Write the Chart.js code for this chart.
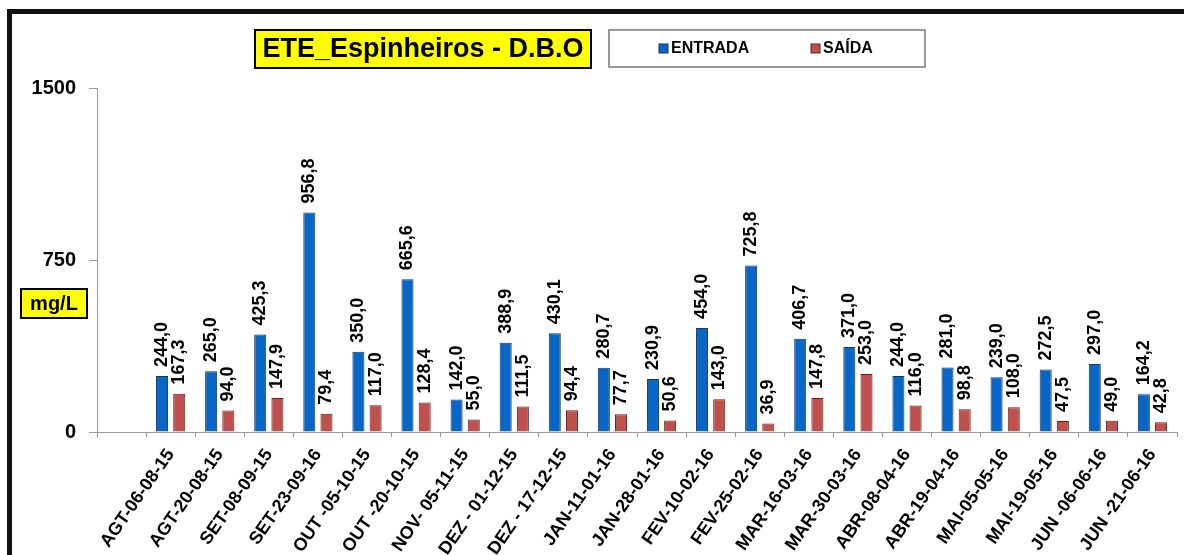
<!DOCTYPE html>
<html>
<head>
<meta charset="utf-8">
<script src="https://cdn.jsdelivr.net/npm/chart.js@4"></script>
<style>
  html, body { margin: 0; padding: 0; background: #fff; }
  #wrap { position: relative; width: 1184px; height: 555px; overflow: hidden; }
  #frame { position: absolute; left: 7px; top: 9px; width: 1300px; height: 700px; border-left: 5px solid #111; border-top: 5px solid #111; }
  canvas { position: absolute; left: 0; top: 0; }
</style>
</head>
<body>
<div id="wrap">
  <div id="frame"></div>
  <canvas id="chart" width="1184" height="555"></canvas>
</div>
<script>
// first category is left empty, like in the original sheet
const dates = ['', 'AGT-06-08-15', 'AGT-20-08-15', 'SET-08-09-15', 'SET-23-09-16', 'OUT -05-10-15', 'OUT -20-10-15',
  'NOV- 05-11-15', 'DEZ - 01-12-15', 'DEZ - 17-12-15', 'JAN-11-01-16', 'JAN-28-01-16', 'FEV-10-02-16',
  'FEV-25-02-16', 'MAR-16-03-16', 'MAR-30-03-16', 'ABR-08-04-16', 'ABR-19-04-16', 'MAI-05-05-16',
  'MAI-19-05-16', 'JUN -06-06-16', 'JUN -21-06-16'];
const entrada = [null, 244.0, 265.0, 425.3, 956.8, 350.0, 665.6, 142.0, 388.9, 430.1, 280.7, 230.9, 454.0,
  725.8, 406.7, 371.0, 244.0, 281.0, 239.0, 272.5, 297.0, 164.2];
const saida = [null, 167.3, 94.0, 147.9, 79.4, 117.0, 128.4, 55.0, 111.5, 94.4, 77.7, 50.6, 143.0,
  36.9, 147.8, 253.0, 116.0, 98.8, 108.0, 47.5, 49.0, 42.8];
const yTicks = [0, 750, 1500];

const chartTitle = 'ETE_Espinheiros - D.B.O';
const unitLabel = 'mg/L';
const FONT = '"Liberation Sans", Arial, sans-serif';

// value labels, rotated, above each bar
const valueLabels = {
  id: 'valueLabels',
  afterDatasetsDraw(chart) {
    const ctx = chart.ctx;
    ctx.save();
    ctx.font = 'bold 18px ' + FONT;
    ctx.fillStyle = '#000';
    ctx.textAlign = 'left';
    ctx.textBaseline = 'middle';
    chart.data.datasets.forEach((ds, i) => {
      chart.getDatasetMeta(i).data.forEach((bar, j) => {
        const v = ds.data[j];
        if (v == null) return;
        ctx.save();
        ctx.translate(bar.x, bar.y - 9);
        ctx.rotate(-Math.PI / 2);
        ctx.fillText(v.toFixed(1).replace('.', ','), 0, 0);
        ctx.restore();
      });
    });
    ctx.restore();
  }
};

// yellow title box, boxed legend and the mg/L tag
const boxes = {
  id: 'boxes',
  afterDraw(chart) {
    const ctx = chart.ctx;
    ctx.save();

    // title
    ctx.fillStyle = '#ffff00';
    ctx.fillRect(255, 30, 336, 38);
    ctx.lineWidth = 2;
    ctx.strokeStyle = '#000';
    ctx.strokeRect(255, 30, 336, 38);
    ctx.fillStyle = '#000';
    ctx.font = 'bold 27px ' + FONT;
    ctx.textAlign = 'center';
    ctx.textBaseline = 'middle';
    ctx.fillText(chartTitle, 423, 50);

    // legend
    ctx.fillStyle = '#fff';
    ctx.fillRect(609, 30, 316, 37);
    ctx.lineWidth = 1.5;
    ctx.strokeStyle = '#777';
    ctx.strokeRect(609, 30, 316, 37);
    ctx.font = 'bold 16px ' + FONT;
    ctx.textAlign = 'left';
    const legendX = [659, 811];
    chart.data.datasets.forEach((ds, i) => {
      const x = legendX[i];
      ctx.fillStyle = ds.backgroundColor;
      ctx.fillRect(x, 44, 9, 9);
      ctx.lineWidth = 1;
      ctx.strokeStyle = ds.borderColor;
      ctx.strokeRect(x, 44, 9, 9);
      ctx.fillStyle = '#000';
      ctx.fillText(ds.label, x + 12, 49);
    });

    // unit tag
    ctx.fillStyle = '#ffff00';
    ctx.fillRect(21, 289, 66, 29);
    ctx.lineWidth = 2;
    ctx.strokeStyle = '#000';
    ctx.strokeRect(21, 289, 66, 29);
    ctx.fillStyle = '#000';
    ctx.font = 'bold 20px ' + FONT;
    ctx.textAlign = 'center';
    ctx.fillText(unitLabel, 54, 304);

    ctx.restore();
  }
};

const ctx = document.getElementById('chart').getContext('2d');
const dboChart = new Chart(ctx, {
  type: 'bar',
  data: {
    labels: dates,
    datasets: [{
      label: 'ENTRADA',
      data: entrada,
      backgroundColor: '#0866c6',
      borderColor: '#1a3560',
      borderWidth: 1,
      categoryPercentage: 0.7,
      barPercentage: 0.7,
    }, {
      label: 'SAÍDA',
      data: saida,
      backgroundColor: '#c0504d',
      borderColor: '#5a2220',
      borderWidth: 1,
      categoryPercentage: 0.7,
      barPercentage: 0.7,
    }],
  },
  options: {
    responsive: false,
    animation: false,
    layout: { padding: { top: 88, right: 7, left: 0, bottom: 0 } },
    plugins: {
      legend: { display: false },
      title: { display: false },
      tooltip: { enabled: false },
    },
    scales: {
      x: {
        afterFit(scale) { scale.height = 123; },
        grid: { drawOnChartArea: false, drawTicks: true, tickLength: 5, color: '#999' },
        border: { display: true, color: '#999', width: 1 },
        ticks: {
          color: '#000',
          font: { family: FONT, size: 18, weight: 'bold' },
          minRotation: 55,
          maxRotation: 55,
          autoSkip: false,
          padding: 8,
        },
      },
      y: {
        min: 0,
        max: 1500,
        afterFit(scale) { scale.width = 97; },
        afterBuildTicks(scale) { scale.ticks = yTicks.map(v => ({ value: v })); },
        grid: { drawOnChartArea: false, drawTicks: true, tickLength: 8, color: '#999' },
        border: { display: true, color: '#999', width: 1 },
        ticks: {
          color: '#000',
          font: { family: FONT, size: 20, weight: 'bold' },
          padding: 13,
          callback: v => String(v),
        },
      },
    },
  },
  plugins: [valueLabels, boxes],
});
</script>
</body>
</html>
